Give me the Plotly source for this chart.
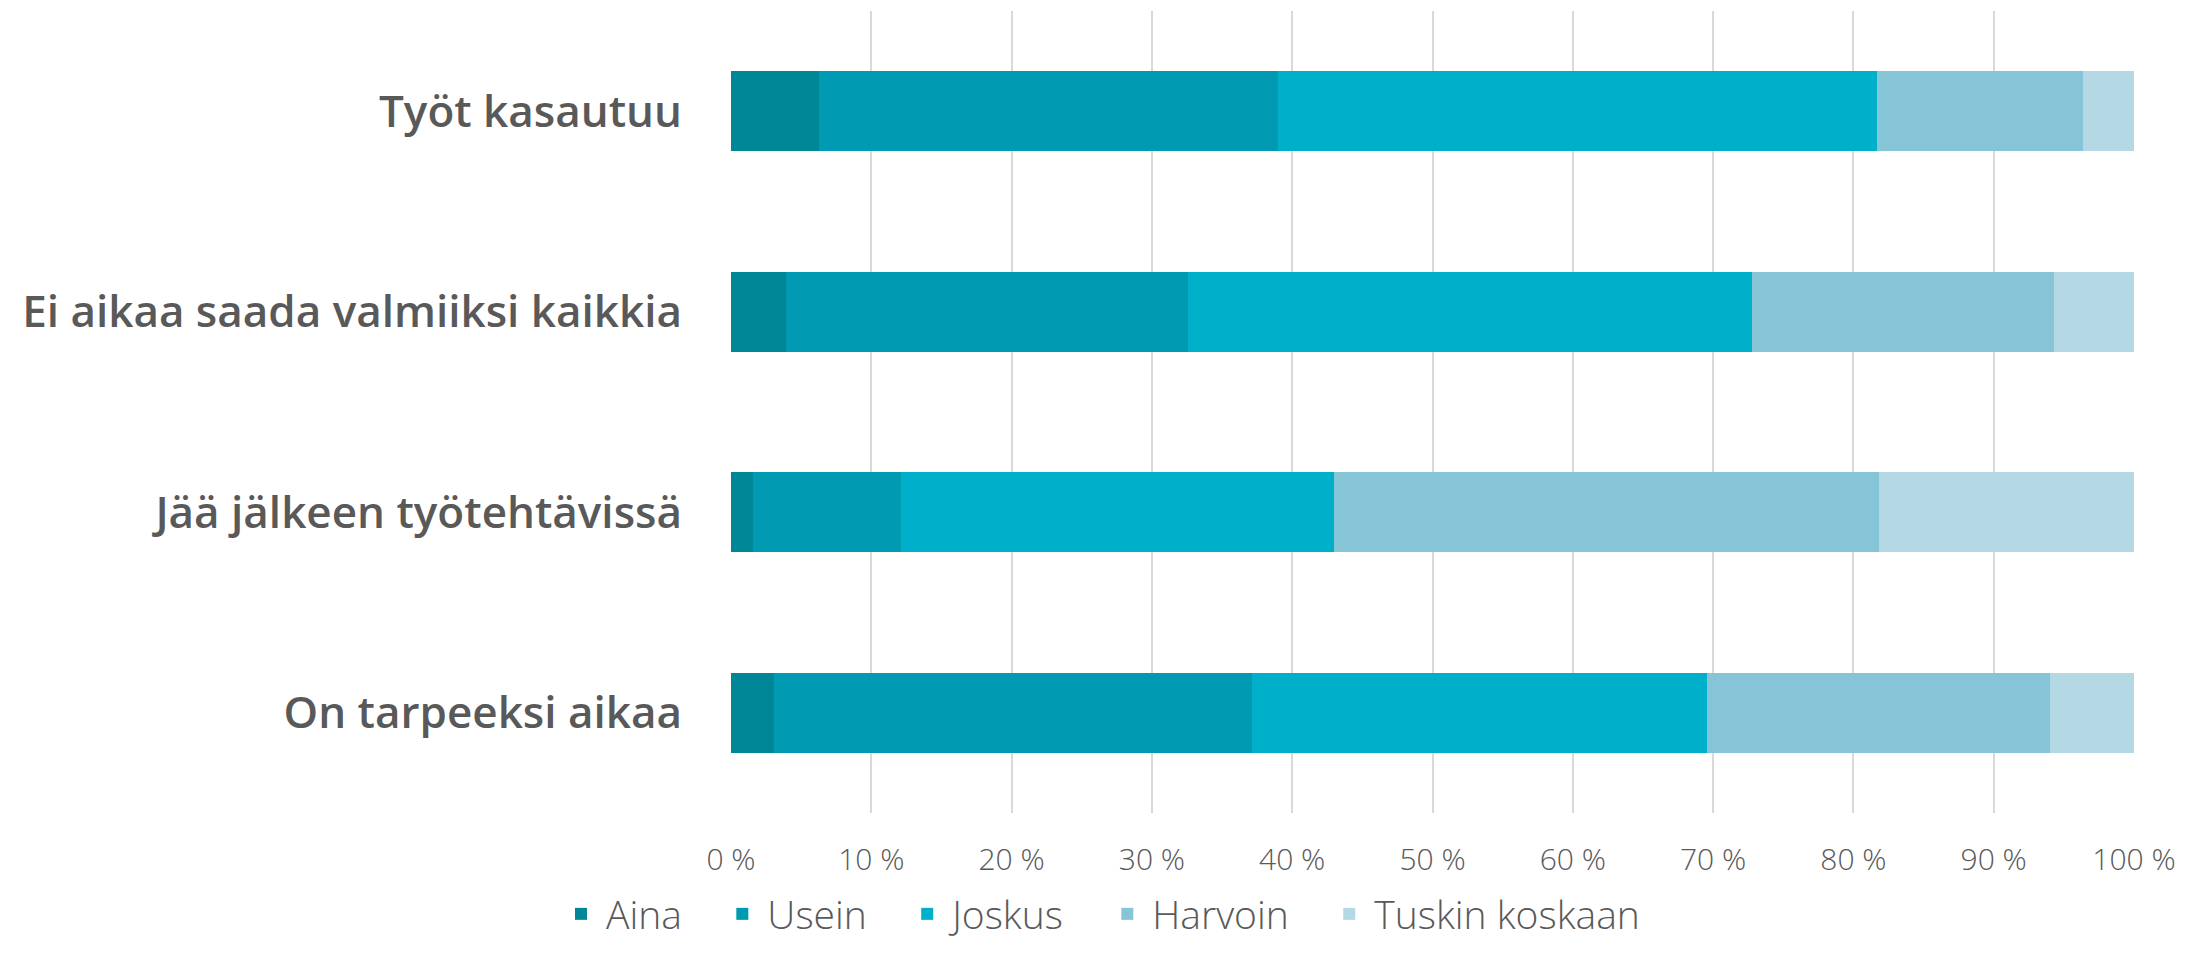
import plotly.graph_objects as go

# kategoriat ylhäältä alas
kysymykset = ["Työt kasautuu", "Ei aikaa saada valmiiksi kaikkia",
              "Jää jälkeen työtehtävissä", "On tarpeeksi aikaa"]

# osuudet (%) kullekin vastausvaihtoehdolle
aina = [6.3, 3.9, 1.6, 3.1]
usein = [32.7, 28.7, 10.5, 34.0]
joskus = [42.7, 40.2, 30.9, 32.5]
harvoin = [14.7, 21.5, 38.8, 24.4]
tuskin = [3.6, 5.7, 18.2, 6.0]

sarjat = ["Aina", "Usein", "Joskus", "Harvoin", "Tuskin koskaan"]
värit = ["#008797", "#009AB2", "#00AFCA", "#86C5D7", "#B4D9E4"]

tick_arvot = [0, 10, 20, 30, 40, 50, 60, 70, 80, 90, 100]
tick_tekstit = ["0 %", "10 %", "20 %", "30 %", "40 %", "50 %",
                "60 %", "70 %", "80 %", "90 %", "100 %"]

fig = go.Figure()
for i, (nimi, arvot, vari) in enumerate(zip(sarjat, [aina, usein, joskus, harvoin, tuskin], värit)):
    # väliä selitteen kohtien väliin
    selite = nimi if i == len(sarjat) - 1 else nimi + "\u00a0" * 3
    fig.add_trace(go.Bar(
        y=kysymykset, x=arvot, name=selite, orientation="h",
        marker=dict(color=vari, line_width=0),
        hovertemplate="%{y}: %{x} %<extra>" + nimi + "</extra>",
    ))

fig.update_layout(
    barmode="stack",
    bargap=0.6,
    margin=dict(l=723, r=59, t=3, b=130),
    plot_bgcolor="white",
    paper_bgcolor="white",
    font=dict(family="Open Sans", color="#595959"),
    legend=dict(
        orientation="h",
        xref="container", x=0.5, xanchor="center",
        yref="container", y=0.0, yanchor="bottom",
        font=dict(size=39, weight=300, color="#595959"),
        traceorder="normal",
        itemwidth=40,
    ),
)

fig.update_xaxes(
    range=[0, 100],
    tickvals=tick_arvot, ticktext=tick_tekstit,
    showgrid=True, gridcolor="#D9D9D9", gridwidth=1.5,
    zeroline=False, showline=False,
    tickfont=dict(size=30, weight=300, color="#595959"),
    ticklabelstandoff=26,
)

fig.update_yaxes(
    categoryorder="array", categoryarray=kysymykset,
    autorange="reversed",
    showgrid=False, zeroline=False, showline=False,
    tickfont=dict(size=44, weight=600, color="#595959"),
    ticklabelstandoff=48,
)

fig.write_html("out.html")
